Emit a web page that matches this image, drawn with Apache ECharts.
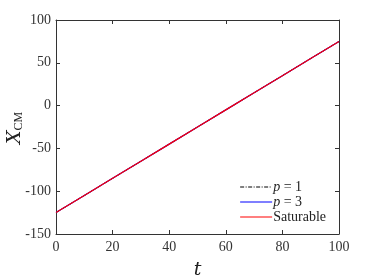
<!DOCTYPE html>
<html><head><meta charset="utf-8">
<script src="https://cdn.jsdelivr.net/npm/echarts@6/dist/echarts.min.js"></script>
<style>html,body{margin:0;padding:0;background:#fff}#c{width:374px;height:280px}</style>
</head><body><div id="c"></div>
<script>
const tValues = [0, 10, 20, 30, 40, 50, 60, 70, 80, 90, 100];
const p1Values = [-125, -105, -85, -65, -45, -25, -5, 15, 35, 55, 75];
const p3Values = [-125, -105, -85, -65, -45, -25, -5, 15, 35, 55, 75];
const satValues = [-125, -105, -85, -65, -45, -25, -5, 15, 35, 55, 75];
const xTicks = [0, 20, 40, 60, 80, 100];
const yTicks = [-150, -100, -50, 0, 50, 100];
const seriesNames = ['p1', 'p3', 'Saturable'];

const font = 'DejaVu Serif, Liberation Serif, serif';
const chart = echarts.init(document.getElementById('c'));
const pair = a => tValues.map((t, i) => [t, a[i]]);
const axisCommon = {
  axisLine: {show: true, onZero: false, lineStyle: {color: '#333', width: 1}},
  axisTick: {show: true, inside: true, length: 4, lineStyle: {color: '#333'}},
  splitLine: {show: false},
  axisLabel: {color: '#333', fontFamily: 'Liberation Serif, serif', fontSize: 14}
};
chart.setOption({
  animation: false,
  grid: {left: 56, right: 35, top: 20, bottom: 46, containLabel: false, outerBoundsMode: 'none'},
  graphic: {
    elements: [{
      type: 'group', x: 15, y: 128, rotation: Math.PI / 2,
      children: [{
        type: 'text', x: 0, y: 0,
        style: {
          text: '{x|X}{s|CM}', align: 'center', verticalAlign: 'middle',
          rich: {
            x: {fontFamily: font, fontStyle: 'italic', fontSize: 19, fill: '#222'},
            s: {fontFamily: 'Liberation Serif, serif', fontSize: 12, fill: '#222', verticalAlign: 'bottom', padding: [6, 0, 0, 0]}
          }
        }
      }]
    }]
  },
  xAxis: [
    Object.assign({}, axisCommon, {type: 'value', min: 0, max: 100, interval: 20,
      name: 't', nameLocation: 'middle', nameGap: 27,
      nameTextStyle: {fontFamily: font, fontStyle: 'italic', fontSize: 19, color: '#222'},
      axisLabel: Object.assign({}, axisCommon.axisLabel, {margin: 6, formatter: v => xTicks.includes(v) ? String(v) : ''})}),
    Object.assign({}, axisCommon, {type: 'value', position: 'top', min: 0, max: 100, interval: 20, axisLabel: {show: false}})
  ],
  yAxis: [
    Object.assign({}, axisCommon, {type: 'value', min: -150, max: 100, interval: 50,
      axisLabel: Object.assign({}, axisCommon.axisLabel, {margin: 5, formatter: v => yTicks.includes(v) ? String(v) : ''})}),
    Object.assign({}, axisCommon, {type: 'value', position: 'right', min: -150, max: 100, interval: 50, axisLabel: {show: false}})
  ],
  legend: {
    orient: 'vertical', right: 43, bottom: 51, itemWidth: 32, itemHeight: 10, itemGap: 1,
    itemStyle: {opacity: 0},
    lineStyle: {width: 1.2},
    data: seriesNames,
    formatter: n => n === 'p1' ? '{i|p} = 1' : n === 'p3' ? '{i|p} = 3' : 'Saturable',
    textStyle: {fontFamily: 'Liberation Serif, serif', fontSize: 14, color: '#222', padding: [0, 0, 0, -4],
      rich: {i: {fontFamily: 'Liberation Serif, serif', fontStyle: 'italic', fontSize: 14, color: '#222'}}}
  },
  series: [
    {name: 'p1', type: 'line', data: pair(p1Values), symbol: 'none', lineStyle: {color: '#000', width: 1, type: [4, 1.5, 1, 1.5]}},
    {name: 'p3', type: 'line', data: pair(p3Values), symbol: 'none', lineStyle: {color: '#0000ff', width: 1.2}},
    {name: 'Saturable', type: 'line', data: pair(satValues), symbol: 'none', lineStyle: {color: '#ff0000', width: 1.2}}
  ]
});
</script></body></html>
